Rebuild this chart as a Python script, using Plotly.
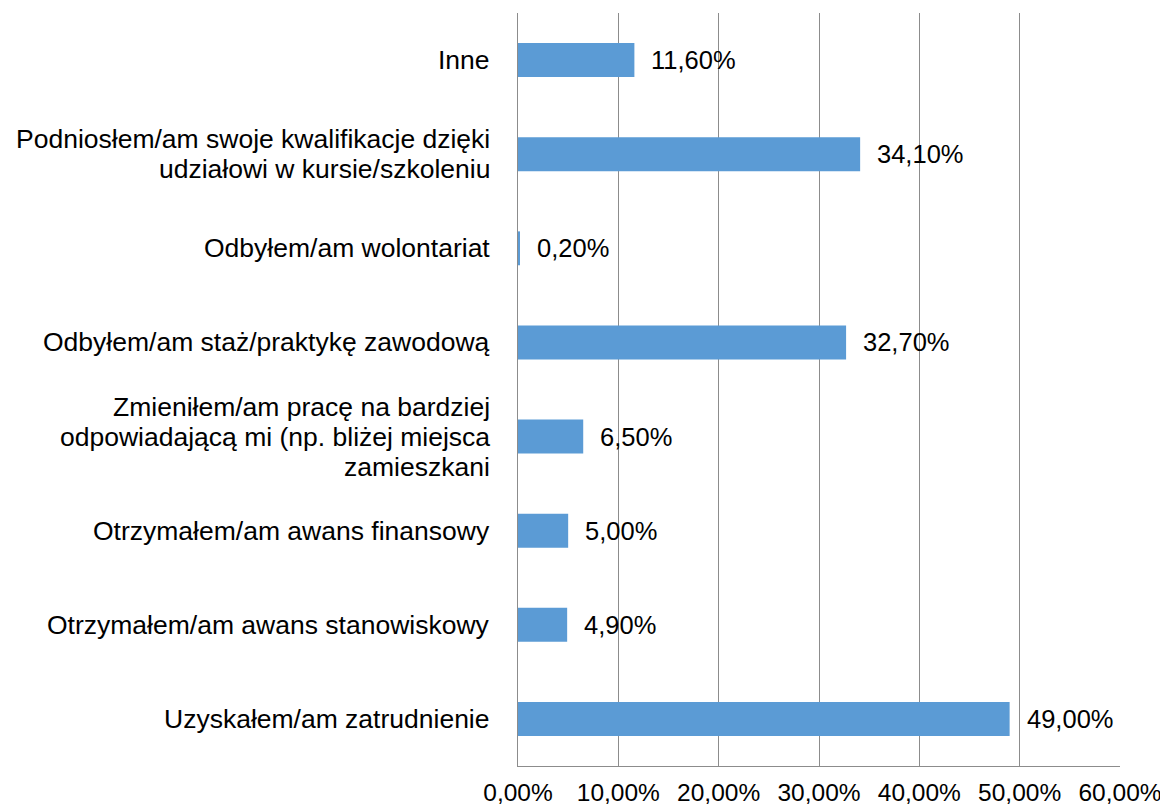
import plotly.graph_objects as go

# categories listed top to bottom as in the source chart
categories = [
    "Inne",
    "Podniosłem/am swoje kwalifikacje dzięki<br>udziałowi w kursie/szkoleniu",
    "Odbyłem/am wolontariat",
    "Odbyłem/am staż/praktykę zawodową",
    "Zmieniłem/am pracę na bardziej<br>odpowiadającą mi (np. bliżej miejsca<br>zamieszkani",
    "Otrzymałem/am awans finansowy",
    "Otrzymałem/am awans stanowiskowy",
    "Uzyskałem/am zatrudnienie",
]
values = [11.6, 34.1, 0.2, 32.7, 6.5, 5.0, 4.9, 49.0]
x_ticks = [0, 10, 20, 30, 40, 50, 60]

FONT = "Liberation Sans, Arial, sans-serif"
LABEL_SIZE = 26.5   # category names
VALUE_SIZE = 25.5   # numbers next to bars
TICK_SIZE = 24.5    # x axis tick labels
BAR_COLOR = "#5B9BD5"
GRID = "#8c8c8c"
LINE_GAP = 30  # px between lines of a wrapped category label


def pct(v):
    return f"{v:.2f}".replace(".", ",") + "%"


fig = go.Figure()

fig.add_trace(go.Bar(
    x=values,
    y=list(range(len(categories))),
    orientation="h",
    width=0.36,
    marker=dict(color=BAR_COLOR, line=dict(width=0)),
    hoverinfo="skip",
))

# value labels right of each bar
for i, v in enumerate(values):
    fig.add_annotation(
        x=v, y=i, xref="x", yref="y",
        text=pct(v), showarrow=False,
        xanchor="left", xshift=15,
        font=dict(family=FONT, size=VALUE_SIZE, color="#000000"),
    )

# category labels, one annotation per line so the spacing stays tight
for i, c in enumerate(categories):
    lines = c.split("<br>")
    n = len(lines)
    for k, line in enumerate(lines):
        fig.add_annotation(
            x=0, y=i, xref="paper", yref="y",
            text=line, showarrow=False,
            xanchor="right", xshift=-26,
            yshift=((n - 1) / 2 - k) * LINE_GAP,
            font=dict(family=FONT, size=LABEL_SIZE, color="#000000"),
        )

fig.update_layout(
    width=1168,
    height=808,
    margin=dict(l=510, r=56, t=5, b=50),
    paper_bgcolor="white",
    plot_bgcolor="white",
    showlegend=False,
    font=dict(family=FONT, size=LABEL_SIZE, color="#000000"),
    xaxis=dict(
        range=[0, 60],
        tickvals=x_ticks,
        ticktext=[pct(t) for t in x_ticks],
        automargin=False,
        showgrid=True,
        gridcolor=GRID,
        gridwidth=1,
        zeroline=False,
        showline=True,
        linecolor=GRID,
        linewidth=1,
        ticks="outside",
        ticklen=5,
        tickcolor="rgba(0,0,0,0)",
        tickfont=dict(family=FONT, size=TICK_SIZE, color="#000000"),
    ),
    yaxis=dict(
        range=[7.5, -0.5],
        automargin=False,
        showticklabels=False,
        showgrid=False,
        zeroline=False,
        showline=True,
        linecolor=GRID,
        linewidth=1,
    ),
)

fig.write_html("out.html")
